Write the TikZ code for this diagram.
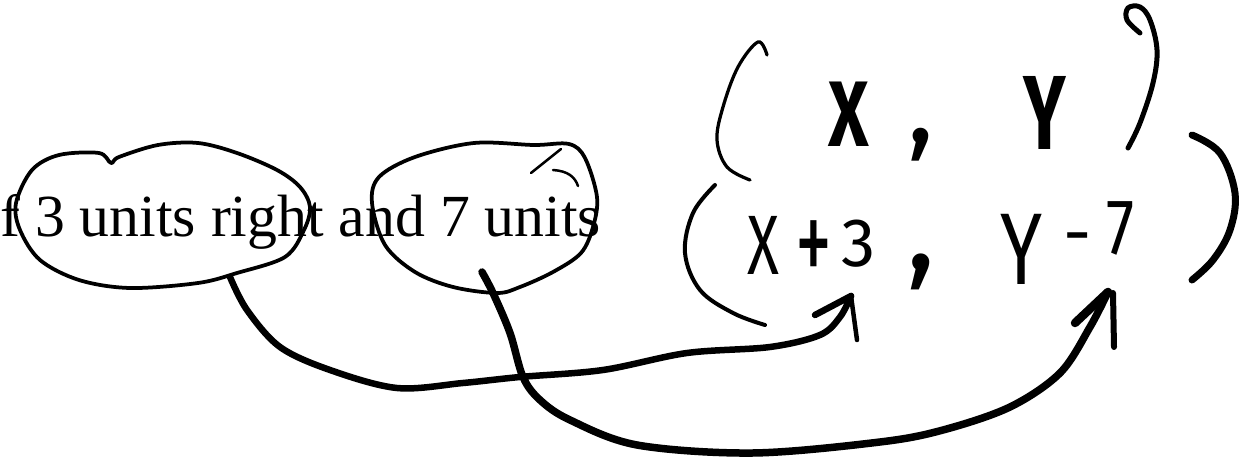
\documentclass[tikz,border=0pt]{standalone}
\usepackage{fontspec}
\setmainfont{Liberation Serif}
\newfontfamily\handfont{Fira Sans}
\begin{document}
\begin{tikzpicture}[x=0.02cm,y=-0.02cm,
  blob/.style={line width=0.075cm, line cap=round, line join=round},
  conn/.style={line width=0.15cm, line cap=round, line join=round},
  barb/.style={line width=0.13cm, line cap=round},
  thinparen/.style={line width=0.065cm, line cap=round},
  thickparen/.style={line width=0.14cm, line cap=round},
  glyph/.style={inner sep=0pt, anchor=base, font=\handfont},
  label/.style={inner sep=0pt, anchor=base west}]
\useasboundingbox (0,0) rectangle (1241,465);

% printed text
\node[label] (txt) at (0,237) {\fontsize{34}{40}\selectfont f 3 units right and 7 units};

% left blob
\draw[blob] plot[smooth cycle, tension=0.55] coordinates {
  (16,203) (32,170) (59,155) (99,153) (111,163) (119,157) (158,145) (198,143)
  (237,153) (277,170) (300,187) (310,207) (304,230) (285,257) (237,273)
  (198,283) (130,288) (79,280) (40,260) (20,230)};
% right blob
\draw[blob] plot[smooth cycle, tension=0.55] coordinates {
  (372,203) (379,177) (415,157) (474,143) (534,145) (569,144) (585,158)
  (597,197) (593,227) (581,253) (553,272) (520,287) (497,293) (453,287)
  (415,272) (385,245)};
% small scribble on right blob
\draw[blob, line width=0.05cm] (531,173) -- (561,149);
\draw[blob, line width=0.05cm] (553,170) .. controls (568,171) and (575,177) .. (578,186);

% connector anchors
\coordinate (s1) at (230,277);
\coordinate (t1) at (851,296);
\coordinate (s2) at (482,272);
\coordinate (t2) at (1108,292);

% connector 1
\draw[conn, line width=0.13cm] plot[smooth, tension=0.55] coordinates {
  (s1) (247,310) (280,347) (330,370) (397,388) (463,383) (520,377) (603,370)
  (687,353) (770,347) (820,335) (840,317) (t1)};
\draw[barb] (t1) -- (815,315);
\draw[barb, line width=0.09cm] (t1) -- (857,340);

% connector 2
\draw[conn] plot[smooth, tension=0.55] coordinates {
  (s2) (493,293) (510,333) (523,377) (540,400) (570,420) (637,445) (753,453)
  (880,442) (943,430) (1010,407) (1060,373) (1090,327) (t2)};
\draw[barb, line width=0.17cm] (t2) -- (1075,323);
\draw[barb, line width=0.12cm] (1113,293) -- (1114,347);

% parentheses
\draw[thinparen] plot[smooth, tension=0.6] coordinates {
  (767,55) (758,42) (738,67) (723,107) (717,140) (727,167) (750,180)};
\draw[thinparen, line width=0.1cm] plot[smooth, tension=0.6] coordinates {
  (1140,33) (1127,20) (1128,8) (1140,7) (1150,20) (1157,50) (1153,83) (1140,123) (1128,148)};
\draw[thinparen, line width=0.08cm] plot[smooth, tension=0.6] coordinates {
  (715,185) (693,213) (685,253) (700,290) (733,313) (765,325)};
\draw[thickparen] plot[smooth, tension=0.6] coordinates {
  (1192,135) (1220,153) (1235,193) (1230,230) (1213,260) (1192,280)};

% handwritten coordinates
\node[glyph, xscale=0.75] (x1) at (849,147) {\fontsize{53}{60}\selectfont\bfseries X};
\node[glyph] (c1) at (921,143) {\fontsize{64}{70}\selectfont ,};
\node[glyph, xscale=0.68] (y1) at (1045,150) {\fontsize{60}{66}\selectfont\bfseries Y};

\node[glyph, xscale=0.7] (x2) at (763,275) {\fontsize{48}{54}\selectfont X};
\node[glyph, xscale=0.6] (p2) at (814,285) {\fontsize{70}{76}\selectfont +};
\node[glyph] (n3) at (859,267) {\fontsize{39}{44}\selectfont 3};
\node[glyph] (c2) at (921,270) {\fontsize{70}{76}\selectfont ,};
\node[glyph, xscale=0.75] (y2) at (1022,285) {\fontsize{58}{64}\selectfont Y};
\node[glyph] (m2) at (1078,258) {\fontsize{40}{46}\selectfont -};
\node[glyph, xscale=0.8] (n7) at (1121,255) {\fontsize{45}{50}\selectfont 7};
\end{tikzpicture}
\end{document}
